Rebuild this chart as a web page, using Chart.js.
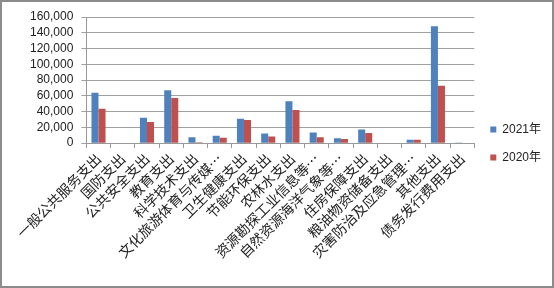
<!DOCTYPE html>
<html>
<head>
<meta charset="utf-8">
<script src="https://cdn.jsdelivr.net/npm/chart.js@4/dist/chart.umd.min.js"></script>
<style>
  html, body { margin: 0; padding: 0; background: #fff; }
  #wrap { position: relative; width: 554px; height: 288px; }
</style>
</head>
<body>
<div id="wrap"><canvas id="chart"></canvas></div>
<script>
// spending categories and the two years
const categories = [
  "一般公共服务支出", "国防支出", "公共安全支出", "教育支出", "科学技术支出",
  "文化旅游体育与传媒…", "卫生健康支出", "节能环保支出", "农林水支出",
  "资源勘探工业信息等…", "自然资源海洋气象等…", "住房保障支出",
  "粮油物资储备支出", "灾害防治及应急管理…", "其他支出", "债务发行费用支出"
];
const values2021 = [63900, 0, 32100, 67000, 7600, 9300, 30900, 12300, 53000, 13600, 6300, 17400, 0, 4200, 148200, 900];
const values2020 = [43600, 0, 26700, 57200, 1000, 6800, 29200, 8500, 41900, 7600, 5100, 12700, 0, 4200, 72800, 0];
const yTicks = [0, 20000, 40000, 60000, 80000, 100000, 120000, 140000, 160000];

// outer frame like the office chart border
const framePlugin = {
  id: "frame",
  afterDraw(chart) {
    const ctx = chart.ctx;
    ctx.save();
    ctx.strokeStyle = "#8c8c8c";
    ctx.lineWidth = 2;
    ctx.strokeRect(1, 1, chart.width - 2, chart.height - 2);
    ctx.restore();
  }
};

new Chart(document.getElementById("chart"), {
  type: "bar",
  data: {
    labels: categories,
    datasets: [
      { label: "2021年", data: values2021, backgroundColor: "#4f81bd", categoryPercentage: 0.58, barPercentage: 1.0 },
      { label: "2020年", data: values2020, backgroundColor: "#c0504d", categoryPercentage: 0.58, barPercentage: 1.0 }
    ]
  },
  options: {
    responsive: true,
    maintainAspectRatio: false,
    animation: false,
    layout: { padding: { left: 22, right: 3, top: 17, bottom: 18 } },
    plugins: {
      tooltip: { enabled: false },
      legend: {
        position: "right",
        labels: {
          boxWidth: 6, boxHeight: 6, padding: 16,
          color: "#222",
          font: { family: "'Liberation Sans', Arial, 'Noto Sans CJK SC'", size: 12 }
        }
      }
    },
    scales: {
      x: {
        grid: { drawOnChartArea: false, drawTicks: true, tickLength: 5, color: "#999" },
        border: { color: "#999" },
        afterFit(scale) {
          // rotated labels may hang past the left edge; keep extra room below
          scale.paddingLeft = 0;
          scale.paddingRight = 0;
          scale.height += 7;
        },
        ticks: {
          autoSkip: false, minRotation: 45, maxRotation: 45, padding: 2,
          color: "#222",
          font: { family: "'Noto Sans CJK SC'", size: 14 }
        }
      },
      y: {
        min: 0, max: 160000,
        afterBuildTicks(scale) { scale.ticks = yTicks.map(v => ({ value: v })); },
        grid: { color: "#a0a0a0", tickLength: 5 },
        border: { color: "#999" },
        ticks: {
          autoSkip: false,
          padding: 8,
          color: "#222",
          font: { family: "'Liberation Sans', Arial", size: 12 },
          callback: v => v.toLocaleString("en-US")
        }
      }
    }
  },
  plugins: [framePlugin]
});
</script>
</body>
</html>
